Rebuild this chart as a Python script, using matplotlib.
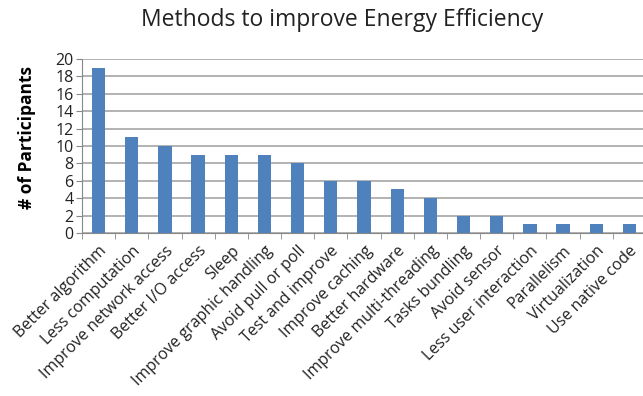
import matplotlib.pyplot as plt
import numpy as np

# Survey answers: how developers improve energy efficiency
methods = ["Better algorithm", "Less computation", "Improve network access",
           "Better I/O access", "Sleep", "Improve graphic handling",
           "Avoid pull or poll", "Test and improve", "Improve caching",
           "Better hardware", "Improve multi-threading", "Tasks bundling",
           "Avoid sensor", "Less user interaction", "Parallelism",
           "Virtualization", "Use native code"]
participants = [19, 11, 10, 9, 9, 9, 8, 6, 6, 5, 4, 2, 2, 1, 1, 1, 1]

plt.rcParams['font.family'] = ['Open Sans', 'DejaVu Sans']

fig = plt.figure(figsize=(6.43, 3.96), dpi=100)
ax = fig.add_axes([82 / 643, 1 - 233 / 396, 564 / 643, 174 / 396])

x = np.arange(len(methods))
ax.bar(x, participants, width=0.4, color='#4F81BD', zorder=3)

ax.set_xlim(-0.5, len(methods) - 0.5)
ax.set_ylim(0, 20)
ax.set_yticks(range(0, 21, 2))
ax.tick_params(axis='y', labelsize=11.5, length=4, color='#888888', pad=2,
               labelcolor='#222222')
ax.yaxis.grid(True, color='#A6A6A6', linewidth=1.2, zorder=0)

# category labels centred on bars, ticks between categories
ax.set_xticks(x)
ax.set_xticklabels(methods, rotation=45, ha='right', rotation_mode='anchor',
                   fontsize=11.5, color='#222222')
ax.tick_params(axis='x', length=0, pad=7)
ax.set_xticks(np.arange(-0.5, len(methods), 1), minor=True)
ax.tick_params(axis='x', which='minor', length=4, color='#888888')

for side in ['top', 'right']:
    ax.spines[side].set_visible(False)
ax.spines['left'].set_color('#888888')
ax.spines['bottom'].set_color('#888888')

ax.set_ylabel("# of Participants", fontsize=12.5, fontweight='bold')
ax.yaxis.set_label_coords(-0.082, 0.55)
fig.text(342 / 643, 1 - 20 / 396, "Methods to improve Energy Efficiency",
         ha='center', va='center', fontsize=16.5, color='#222222')

fig.savefig('out.png', dpi=100)
